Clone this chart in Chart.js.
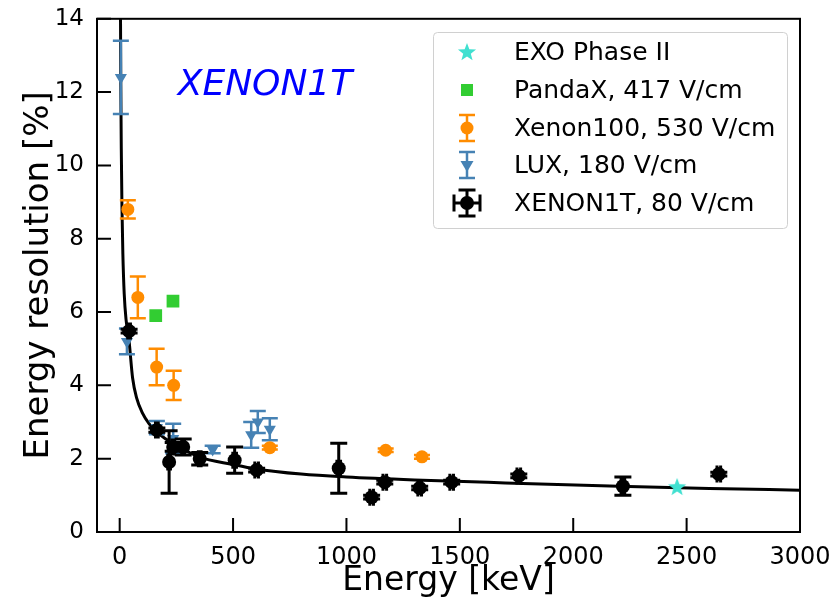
<!DOCTYPE html>
<html>
<head>
<meta charset="utf-8">
<script src="https://cdn.jsdelivr.net/npm/chart.js@4.4.0/dist/chart.umd.min.js"></script>
<style>
html, body { margin: 0; padding: 0; background: #fff; }
</style>
</head>
<body>
<canvas id="chart" width="836" height="597"></canvas>
<script>
// axis ticks
xTicks = [0, 500, 1000, 1500, 2000, 2500, 3000]
yTicks = [0, 2, 4, 6, 8, 10, 12, 14]

// fitted resolution curve
fitEnergy = [3.7, 5, 7, 10, 14, 20, 28, 40, 57, 75, 100, 130, 160, 200, 250, 350, 500, 600, 800, 1000, 1300, 1700, 2200, 2600, 3000]
fitValue = [14, 12.2, 10.5, 8.9, 7.6, 6.5, 5.8, 5.3, 4.2, 3.65, 3.25, 2.95, 2.75, 2.55, 2.36, 2.05, 1.84, 1.72, 1.58, 1.5, 1.42, 1.34, 1.25, 1.19, 1.14]

// XENON1T, 80 V/cm
xe1tEnergy = [41.5, 164, 218, 236, 280, 353, 507, 604, 966, 1111, 1169, 1323, 1464, 1760, 2219, 2642]
xe1tValue = [5.48, 2.78, 1.91, 2.32, 2.32, 2.0, 1.96, 1.69, 1.74, 0.95, 1.36, 1.2, 1.36, 1.53, 1.25, 1.58]
xe1tErr = [0.05, 0.06, 0.85, 0.12, 0.22, 0.17, 0.36, 0.05, 0.68, 0.05, 0.05, 0.05, 0.05, 0.05, 0.25, 0.05]
xe1tEnergyErr = [6, 6, 6, 6, 6, 6, 8, 8, 8, 8, 8, 8, 8, 8, 8, 8]

// LUX, 180 V/cm
luxEnergy = [5.2, 32, 164, 236, 410, 580, 609, 662]
luxValue = [12.4, 5.2, 2.85, 2.55, 2.25, 2.65, 3.0, 2.8]
luxErr = [1.0, 0.35, 0.18, 0.4, 0.1, 0.35, 0.3, 0.3]

// Xenon100, 530 V/cm
x100Energy = [36, 80, 163, 238, 662, 1173, 1333]
x100Value = [8.8, 6.4, 4.5, 4.0, 2.3, 2.23, 2.05]
x100Err = [0.25, 0.57, 0.5, 0.4, 0.05, 0.05, 0.05]

// PandaX, 417 V/cm
pandaEnergy = [159, 235]
pandaValue = [5.9, 6.3]

// EXO Phase II
exoEnergy = [2458]
exoValue = [1.23]

function points(xs, ys) {
	var out = []
	for (var i = 0; i < xs.length; i++) out.push({x: xs[i], y: ys[i]})
	return out
}

function starPath(ctx, cx, cy, r) {
	ctx.beginPath()
	for (var i = 0; i < 10; i++) {
		var rad = i % 2 == 0 ? r : r * 0.42
		var a = -Math.PI / 2 + i * Math.PI / 5
		ctx.lineTo(cx + rad * Math.cos(a), cy + rad * Math.sin(a))
	}
	ctx.closePath()
}

starImg = document.createElement('canvas')
starImg.width = 20
starImg.height = 20
var sctx = starImg.getContext('2d')
sctx.fillStyle = '#40e0d0'
starPath(sctx, 10, 10.5, 9.5)
sctx.fill()

errorBars = {
	id: 'errorBars',
	beforeDatasetDraw(chart, args) {
		var ds = chart.data.datasets[args.index]
		if (!ds.yErr) return
		var ctx = chart.ctx, xs = chart.scales.x, ys = chart.scales.y
		var cap = ds.capSize
		ctx.save()
		ctx.strokeStyle = ds.barColor
		ctx.lineWidth = ds.barWidth
		ds.data.forEach(function (p, i) {
			var x = xs.getPixelForValue(p.x), y = ys.getPixelForValue(p.y)
			var y1 = ys.getPixelForValue(p.y + ds.yErr[i]), y2 = ys.getPixelForValue(p.y - ds.yErr[i])
			ctx.beginPath()
			ctx.moveTo(x, y1); ctx.lineTo(x, y2)
			ctx.moveTo(x - cap, y1); ctx.lineTo(x + cap, y1)
			ctx.moveTo(x - cap, y2); ctx.lineTo(x + cap, y2)
			if (ds.xErr) {
				var x1 = xs.getPixelForValue(p.x - ds.xErr[i]), x2 = xs.getPixelForValue(p.x + ds.xErr[i])
				ctx.moveTo(x1, y); ctx.lineTo(x2, y)
				ctx.moveTo(x1, y - cap); ctx.lineTo(x1, y + cap)
				ctx.moveTo(x2, y - cap); ctx.lineTo(x2, y + cap)
			}
			ctx.stroke()
		})
		ctx.restore()
	}
}

frame = {
	id: 'frame',
	afterDatasetsDraw(chart) {
		var a = chart.chartArea, ctx = chart.ctx
		ctx.save()
		ctx.strokeStyle = '#000'
		ctx.lineWidth = 2
		ctx.strokeRect(a.left, a.top, a.right - a.left, a.bottom - a.top)
		ctx.beginPath()
		xTicks.forEach(function (v) {
			var x = chart.scales.x.getPixelForValue(v)
			ctx.moveTo(x, a.bottom); ctx.lineTo(x, a.bottom - 14)
		})
		yTicks.forEach(function (v) {
			var y = chart.scales.y.getPixelForValue(v)
			ctx.moveTo(a.left, y); ctx.lineTo(a.left + 14, y)
		})
		ctx.stroke()

		// experiment label
		ctx.fillStyle = '#0000ff'
		ctx.font = 'italic 36px "DejaVu Sans"'
		ctx.textBaseline = 'middle'
		ctx.textAlign = 'left'
		ctx.fillText('XENON1T', chart.scales.x.getPixelForValue(256), chart.scales.y.getPixelForValue(12.18))
		ctx.restore()
	}
}

function vbar(ctx, x, y1, y2, cap) {
	ctx.moveTo(x, y1); ctx.lineTo(x, y2)
	ctx.moveTo(x - cap, y1); ctx.lineTo(x + cap, y1)
	ctx.moveTo(x - cap, y2); ctx.lineTo(x + cap, y2)
}

legendBox = {
	id: 'legendBox',
	afterDraw(chart) {
		var ctx = chart.ctx
		var left = 433, top = 32, w = 354, h = 196
		ctx.save()
		ctx.fillStyle = 'rgba(255,255,255,0.8)'
		ctx.strokeStyle = '#d0d0d0'
		ctx.lineWidth = 1
		ctx.beginPath()
		ctx.roundRect(left + 0.5, top + 0.5, w, h, 4)
		ctx.fill()
		ctx.stroke()

		var mx = 467, tx = 514
		var rows = [52, 90, 128, 165, 203]
		var labels = ['EXO Phase II', 'PandaX, 417 V/cm', 'Xenon100, 530 V/cm', 'LUX, 180 V/cm', 'XENON1T, 80 V/cm']

		// EXO star
		ctx.fillStyle = '#40e0d0'
		starPath(ctx, mx, rows[0] + 0.5, 9.5)
		ctx.fill()
		// PandaX square
		ctx.fillStyle = '#32cd32'
		ctx.fillRect(mx - 6, rows[1] - 6, 12, 12)
		// Xenon100
		ctx.strokeStyle = '#ff8c00'
		ctx.lineWidth = 2.5
		ctx.beginPath(); vbar(ctx, mx, rows[2] - 13, rows[2] + 13, 8); ctx.stroke()
		ctx.fillStyle = '#ff8c00'
		ctx.beginPath(); ctx.arc(mx, rows[2], 6.5, 0, Math.PI * 2); ctx.fill()
		// LUX
		ctx.strokeStyle = '#4682b4'
		ctx.beginPath(); vbar(ctx, mx, rows[3] - 13, rows[3] + 13, 8); ctx.stroke()
		ctx.fillStyle = '#4682b4'
		ctx.beginPath()
		ctx.moveTo(mx - 6.5, rows[3] - 4); ctx.lineTo(mx + 6.5, rows[3] - 4); ctx.lineTo(mx, rows[3] + 7)
		ctx.closePath(); ctx.fill()
		// XENON1T
		ctx.strokeStyle = '#000'
		ctx.lineWidth = 3
		ctx.beginPath()
		vbar(ctx, mx, rows[4] - 13, rows[4] + 13, 8.5)
		ctx.moveTo(mx - 13, rows[4]); ctx.lineTo(mx + 13, rows[4])
		ctx.moveTo(mx - 13, rows[4] - 8.5); ctx.lineTo(mx - 13, rows[4] + 8.5)
		ctx.moveTo(mx + 13, rows[4] - 8.5); ctx.lineTo(mx + 13, rows[4] + 8.5)
		ctx.stroke()
		ctx.fillStyle = '#000'
		ctx.beginPath(); ctx.arc(mx, rows[4], 7, 0, Math.PI * 2); ctx.fill()

		ctx.fillStyle = '#000'
		ctx.font = '25px "DejaVu Sans"'
		ctx.textBaseline = 'middle'
		ctx.textAlign = 'left'
		labels.forEach(function (t, i) { ctx.fillText(t, tx, rows[i] + 1) })
		ctx.restore()
	}
}

var chart = new Chart(document.getElementById('chart').getContext('2d'), {
	type: 'scatter',
	data: {
		datasets: [
			{
				label: 'fit',
				data: points(fitEnergy, fitValue),
				showLine: true,
				borderColor: '#000',
				borderWidth: 3,
				pointRadius: 0,
				cubicInterpolationMode: 'monotone',
				order: 10
			},
			{
				label: 'LUX, 180 V/cm',
				data: points(luxEnergy, luxValue),
				pointStyle: 'triangle',
				rotation: 180,
				pointRadius: 7,
				pointBorderWidth: 0,
				backgroundColor: '#4682b4',
				yErr: luxErr, barColor: '#4682b4', barWidth: 2.5, capSize: 8,
				order: 5
			},
			{
				label: 'Xenon100, 530 V/cm',
				data: points(x100Energy, x100Value),
				pointStyle: 'circle',
				pointRadius: 6.5,
				pointBorderWidth: 0,
				backgroundColor: '#ff8c00',
				yErr: x100Err, barColor: '#ff8c00', barWidth: 2.5, capSize: 8,
				order: 4
			},
			{
				label: 'PandaX, 417 V/cm',
				data: points(pandaEnergy, pandaValue),
				pointStyle: 'rect',
				pointRadius: 9,
				pointBorderWidth: 0,
				backgroundColor: '#32cd32',
				order: 3
			},
			{
				label: 'EXO Phase II',
				data: points(exoEnergy, exoValue),
				pointStyle: starImg,
				order: 2
			},
			{
				label: 'XENON1T, 80 V/cm',
				data: points(xe1tEnergy, xe1tValue),
				pointStyle: 'circle',
				pointRadius: 7,
				pointBorderWidth: 0,
				backgroundColor: '#000',
				yErr: xe1tErr, xErr: xe1tEnergyErr, barColor: '#000', barWidth: 3, capSize: 8.5,
				order: 1
			}
		]
	},
	options: {
		responsive: false,
		animation: false,
		layout: { padding: { left: 0, top: 18, right: 36, bottom: 0 } },
		plugins: { legend: { display: false }, tooltip: { enabled: false } },
		scales: {
			x: {
				type: 'linear',
				min: -100,
				max: 3000,
				afterBuildTicks: function (scale) { scale.ticks = xTicks.map(function (v) { return {value: v} }) },
				afterFit: function (scale) { scale.height = 65 },
				grid: { display: false },
				border: { display: false },
				ticks: { color: '#000', font: { family: 'DejaVu Sans', size: 24 }, padding: 3, maxRotation: 0,
					callback: function (v) { return String(v) } },
				title: { display: true, text: 'Energy [keV]', color: '#000', font: { family: 'DejaVu Sans', size: 33, lineHeight: 0.95 }, padding: 0 }
			},
			y: {
				type: 'linear',
				min: 0,
				max: 14,
				afterBuildTicks: function (scale) { scale.ticks = yTicks.map(function (v) { return {value: v} }) },
				afterFit: function (scale) { scale.width = 97 },
				grid: { display: false },
				border: { display: false },
				ticks: { color: '#000', font: { family: 'DejaVu Sans', size: 23 }, padding: 5,
					callback: function (v) { return String(v) } },
				title: { display: true, text: 'Energy resolution [%]', color: '#000', font: { family: 'DejaVu Sans', size: 34, lineHeight: 1 }, padding: { top: 22 } }
			}
		}
	},
	plugins: [errorBars, frame, legendBox]
})
</script>
</body>
</html>
